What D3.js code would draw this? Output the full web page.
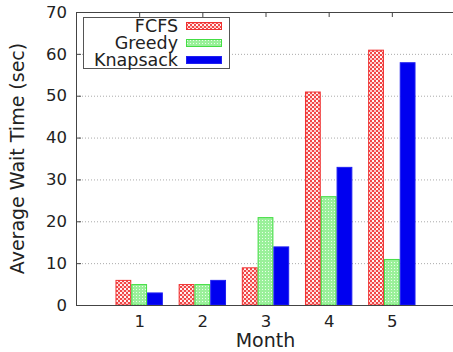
<!DOCTYPE html>
<html>
<head>
<meta charset="utf-8">
<script src="https://cdn.jsdelivr.net/npm/d3@7"></script>
<style>
  body { margin: 0; background: #fff; }
  text { font-family: "DejaVu Sans", sans-serif; fill: #222; }
</style>
</head>
<body>
<div id="chart"></div>
<script>
// data
const months = [1, 2, 3, 4, 5];
const seriesNames = ["FCFS", "Greedy", "Knapsack"];
const fcfs = [6, 5, 9, 51, 61];
const greedy = [5, 5, 21, 26, 11];
const knapsack = [3, 6, 14, 33, 58];
const yTicks = [0, 10, 20, 30, 40, 50, 60, 70];

const series = [fcfs, greedy, knapsack];

const width = 453, height = 352;
const margin = { top: 12, right: -2, bottom: 47, left: 76 };

const svg = d3.select("#chart").append("svg")
    .attr("width", width)
    .attr("height", height);

// patterns
const defs = svg.append("defs");
const pRed = defs.append("pattern").attr("id", "redPat")
    .attr("patternUnits", "userSpaceOnUse").attr("width", 4).attr("height", 4);
pRed.append("rect").attr("width", 4).attr("height", 4).attr("fill", "#f04848");
pRed.append("rect").attr("x", 0).attr("y", 0).attr("width", 2).attr("height", 2).attr("fill", "#fff6f6");
pRed.append("rect").attr("x", 2).attr("y", 2).attr("width", 2).attr("height", 2).attr("fill", "#ffc8c8");

const pGreen = defs.append("pattern").attr("id", "greenPat")
    .attr("patternUnits", "userSpaceOnUse").attr("width", 3).attr("height", 3);
pGreen.append("rect").attr("width", 3).attr("height", 3).attr("fill", "#9af09a");
pGreen.append("rect").attr("x", 1).attr("y", 1).attr("width", 1).attr("height", 1).attr("fill", "#e8ffe8");

const fills = ["url(#redPat)", "url(#greenPat)", "#0000f0"];
const strokes = ["#f03030", "#44dd44", "#2020f0"];

// scales
const x = d3.scaleLinear().domain([0, 6])
    .range([margin.left, width - margin.right]);
const y = d3.scaleLinear().domain([0, 70])
    .range([height - margin.bottom, margin.top]);
const barW = 0.25;

// grid lines
svg.append("g")
    .selectAll("line")
    .data(yTicks.slice(1, -1))
    .join("line")
    .attr("x1", margin.left)
    .attr("x2", width)
    .attr("y1", d => y(d) + 0.5)
    .attr("y2", d => y(d) + 0.5)
    .attr("stroke", "#aaa")
    .attr("stroke-width", 1)
    .attr("stroke-dasharray", "1,2");

// bars
series.forEach((vals, i) => {
    svg.append("g")
        .selectAll("rect")
        .data(vals)
        .join("rect")
        .attr("x", (d, j) => x(months[j] + (i - 1.5) * barW) + 0.5)
        .attr("y", d => y(d) + 0.5)
        .attr("width", x(barW) - x(0) - 1)
        .attr("height", d => y(0) - y(d) - 0.5)
        .attr("fill", fills[i])
        .attr("stroke", strokes[i])
        .attr("stroke-width", 1);
});

// axes
const axisColor = "#444";
const yAxis = svg.append("g")
    .attr("transform", `translate(${margin.left},0)`)
    .call(d3.axisLeft(y).tickValues(yTicks).tickSize(-5).tickPadding(9));
yAxis.select(".domain").attr("stroke", axisColor);
yAxis.selectAll(".tick line").attr("stroke", axisColor);
yAxis.selectAll("text").attr("font-size", 16.5).attr("fill", "#222");

const xAxis = svg.append("g")
    .attr("transform", `translate(0,${y(0)})`)
    .call(d3.axisBottom(x).tickValues(months).tickSize(0).tickPadding(10).tickFormat(d3.format("d")));
xAxis.select(".domain").attr("stroke", axisColor);
xAxis.selectAll("text").attr("font-size", 16.5).attr("fill", "#222");

// top border with mirrored ticks
const topAxis = svg.append("g")
    .attr("transform", `translate(0,${margin.top})`)
    .call(d3.axisTop(x).tickValues(months).tickSize(-5).tickFormat(""));
topAxis.select(".domain").attr("stroke", axisColor);
topAxis.selectAll(".tick line").attr("stroke", axisColor);

// axis titles
svg.append("text")
    .attr("x", x(3))
    .attr("y", 347)
    .attr("text-anchor", "middle")
    .attr("font-size", 19)
    .text("Month");

svg.append("text")
    .attr("transform", `translate(24,${(y(0) + y(70)) / 2}) rotate(-90)`)
    .attr("text-anchor", "middle")
    .attr("font-size", 19)
    .text("Average Wait Time (sec)");

// legend
const legend = svg.append("g");
legend.append("rect")
    .attr("x", 83.5).attr("y", 17.5)
    .attr("width", 146).attr("height", 51)
    .attr("fill", "#fff")
    .attr("stroke", "#555");
seriesNames.forEach((name, i) => {
    const cy = 26 + i * 17;
    legend.append("text")
        .attr("x", 178)
        .attr("y", cy + 6)
        .attr("text-anchor", "end")
        .attr("font-size", 17.5)
        .text(name);
    legend.append("rect")
        .attr("x", 186.5).attr("y", cy - 3.5)
        .attr("width", 35).attr("height", 7)
        .attr("fill", fills[i])
        .attr("stroke", strokes[i]);
});
</script>
</body>
</html>
